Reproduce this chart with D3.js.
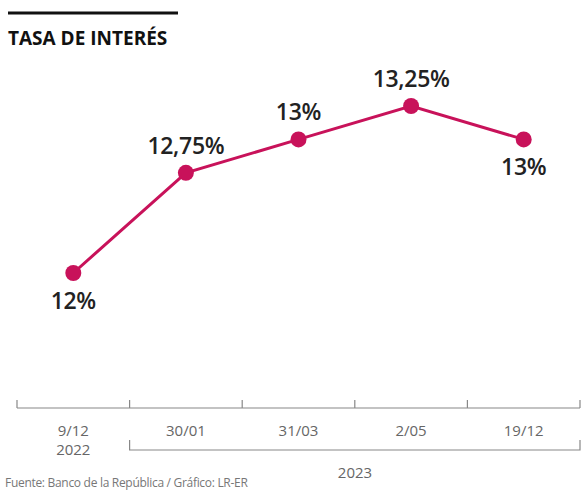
<!DOCTYPE html>
<html>
<head>
<meta charset="utf-8">
<script src="https://cdn.jsdelivr.net/npm/d3@7"></script>
<style>
  body { margin: 0; background: #fff; }
  text { font-family: "Open Sans", sans-serif; }
</style>
</head>
<body>
<div id="app"></div>
<script>
const dates = ["9/12", "30/01", "31/03", "2/05", "19/12"];
const rates = [12, 12.75, 13, 13.25, 13];
const rateLabels = ["12%", "12,75%", "13%", "13,25%", "13%"];
const labelBelow = [true, false, false, false, true];

const width = 582;
const height = 490;

const svg = d3.select("#app").append("svg")
  .attr("width", width)
  .attr("height", height);

const x = d3.scaleBand().domain(dates).range([17, 580]);
const y = d3.scaleLinear().domain([12, 13.25]).range([273, 106]);

const color = "#c8125a";

// title
svg.append("line")
  .attr("x1", 8).attr("x2", 178)
  .attr("y1", 13).attr("y2", 13)
  .attr("stroke", "#111")
  .attr("stroke-width", 3);

svg.append("text")
  .attr("x", 8).attr("y", 45)
  .text("TASA DE INTERÉS")
  .style("font-weight", 700)
  .style("font-size", "19px")
  .attr("fill", "#111");

// line + points
const cx = (d, i) => x(dates[i]) + x.bandwidth() / 2;

svg.append("path")
  .datum(rates)
  .attr("fill", "none")
  .attr("stroke", color)
  .attr("stroke-width", 3)
  .attr("d", d3.line().x(cx).y((d) => y(d)));

svg.selectAll("circle.pt")
  .data(rates)
  .join("circle")
  .attr("class", "pt")
  .attr("cx", cx)
  .attr("cy", (d) => y(d))
  .attr("r", 8)
  .attr("fill", color);

svg.selectAll("text.val")
  .data(rates)
  .join("text")
  .attr("class", "val")
  .attr("x", cx)
  .attr("y", (d, i) => (labelBelow[i] ? y(d) + 36 : y(d) - 19))
  .attr("text-anchor", "middle")
  .style("font-size", "23px")
  .style("font-weight", 600)
  .style("letter-spacing", "-0.3px")
  .attr("fill", "#222")
  .text((d, i) => rateLabels[i]);

// axis
const axisY = 408;
const gAxis = svg.append("g").attr("transform", `translate(0,${axisY})`);
const edges = dates.map((d) => x(d)).concat([x.range()[1]]);

gAxis.append("line")
  .attr("x1", x.range()[0]).attr("x2", x.range()[1])
  .attr("stroke", "#888").attr("stroke-width", 1.2);

gAxis.selectAll("line.tick")
  .data(edges)
  .join("line")
  .attr("class", "tick")
  .attr("x1", (d) => d).attr("x2", (d) => d)
  .attr("y1", -8).attr("y2", 0)
  .attr("stroke", "#888").attr("stroke-width", 1.2);

gAxis.selectAll("text.lab")
  .data(dates)
  .join("text")
  .attr("class", "lab")
  .attr("x", (d) => x(d) + x.bandwidth() / 2)
  .attr("y", 28)
  .attr("text-anchor", "middle")
  .style("font-size", "15px")
  .attr("fill", "#666")
  .text((d) => d);

gAxis.append("text")
  .attr("x", x(dates[0]) + x.bandwidth() / 2)
  .attr("y", 47)
  .attr("text-anchor", "middle")
  .style("font-size", "15px")
  .attr("fill", "#666")
  .text("2022");

// 2023 bracket
const bx0 = x(dates[1]);
const bx1 = x.range()[1];
gAxis.append("path")
  .attr("d", `M${bx0},${32}V${42}H${bx1}V${32}`)
  .attr("fill", "none")
  .attr("stroke", "#888")
  .attr("stroke-width", 1.2);

gAxis.append("text")
  .attr("x", 355)
  .attr("y", 70)
  .attr("text-anchor", "middle")
  .style("font-size", "15px")
  .attr("fill", "#666")
  .text("2023");

svg.append("text")
  .attr("x", 5)
  .attr("y", 487)
  .style("font-size", "12px")
  .style("letter-spacing", "-0.3px")
  .attr("fill", "#777")
  .text("Fuente: Banco de la República / Gráfico: LR-ER");
</script>
</body>
</html>
